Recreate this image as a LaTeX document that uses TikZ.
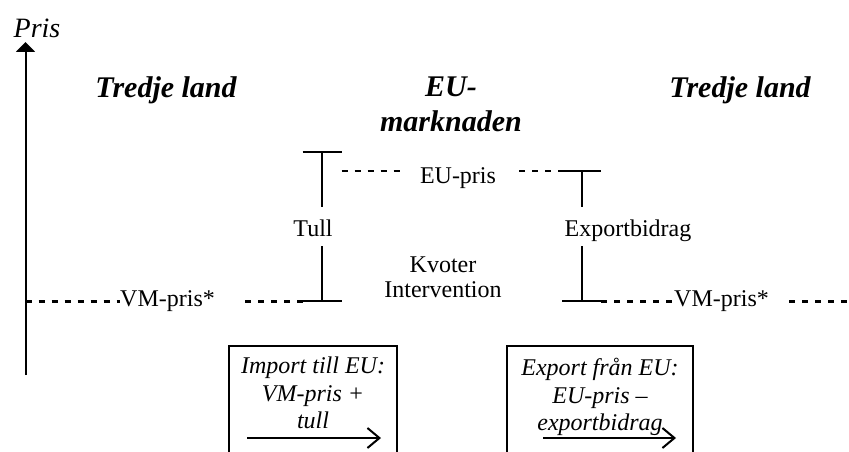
\documentclass[tikz,border=0pt]{standalone}
\usepackage{fontspec}
\setmainfont{Liberation Serif}
\usetikzlibrary{arrows.meta}
\tikzset{
	level/.style={line width=2.3pt, dash pattern=on 6pt off 7pt},
	bar/.style={line width=2pt},
	txt/.style={font=\fontsize{24}{25}\selectfont, inner sep=0pt, align=center},
	head/.style={font=\fontsize{30}{35}\selectfont\bfseries\itshape, inner sep=0pt, align=center},
	flowbox/.style={draw, line width=2pt, minimum height=140pt, anchor=north},
	flowtxt/.style={font=\fontsize{24}{27.5}\selectfont\itshape, inner sep=0pt, align=center, anchor=north},
	flow/.style={line width=2pt, -{Straight Barb[length=12pt, width=20pt]}}
}

\begin{document}
\begin{tikzpicture}[x=1pt, y=-1pt]
	\useasboundingbox (0,0) rectangle (849,452);
	\clip (0,0) rectangle (849,452);
	% price axis
	\coordinate (ax0) at (25.5,375);
	\coordinate (ax1) at (25.5,42);
	\draw[line width=2pt, -{Triangle[width=19pt, length=10pt]}] (ax0) -- (ax1);
	\node[font=\fontsize{28}{32}\selectfont\itshape, inner sep=0pt, anchor=base] (pris) at (37,38) {Pris};
	% regions
	\node[head, anchor=base] (land1) at (166,97) {Tredje land};
	\node[head, anchor=north] (eu) at (451,77) {EU-\\marknaden};
	\node[head, anchor=base] (land2) at (740,97) {Tredje land};
	% EU price
	\node[txt, anchor=base] (eupris) at (458,183) {EU-pris};
	\coordinate (eu1) at (341.5,171);
	\coordinate (eu2) at (405,171);
	\coordinate (eu3) at (519,171);
	\coordinate (eu4) at (562,171);
	\draw[level] (eu1) -- (eu2) (eu3) -- (eu4);
	% world price
	\node[txt, anchor=west] (vm1) at (120,301.5) {VM-pris*};
	\node[txt, anchor=west] (vm2) at (674,301.5) {VM-pris*};
	\draw[level] (ax0 |- vm1.west) -- (vm1.west);
	\draw[level] ([xshift=30pt]vm1.east) -- (302.5,301.5);
	\draw[level] (601,301.5) -- (vm2.west);
	\draw[level] ([xshift=20pt]vm2.east) -- (849,301.5);
	% tariff and export refund
	\draw[bar] (302.5,152) -- (341.5,152) (322,152) -- (322,207)
		(322,246) -- (322,301) (302.5,301) -- (341.5,301);
	\draw[bar] (562,171) -- (601,171) (581.5,171) -- (581.5,207)
		(581.5,246) -- (581.5,301) (562,301) -- (601,301);
	\node[txt, anchor=base] (tull) at (313,236) {Tull};
	\node[txt, anchor=base] (bidrag) at (628,236) {Exportbidrag};
	\node[txt, anchor=north] (kvot) at (443,257) {Kvoter\\Intervention};
	% trade boxes
	\node[flowbox, minimum width=168pt] (imp) at (313,345) {};
	\node[flowbox, minimum width=186pt] (exp) at (600,345) {};
	\node[flowtxt] (impt) at (313,357) {Import till EU:\\VM-pris +\\tull};
	\node[flowtxt] (expt) at (600,358) {Export från EU:\\EU-pris –\\exportbidrag};
	\coordinate (imp1) at (247,438);
	\coordinate (imp2) at (381,438);
	\coordinate (exp1) at (543,438);
	\coordinate (exp2) at (676,438);
	\draw[flow] (imp1) -- (imp2);
	\draw[flow] (exp1) -- (exp2);
\end{tikzpicture}
\end{document}
